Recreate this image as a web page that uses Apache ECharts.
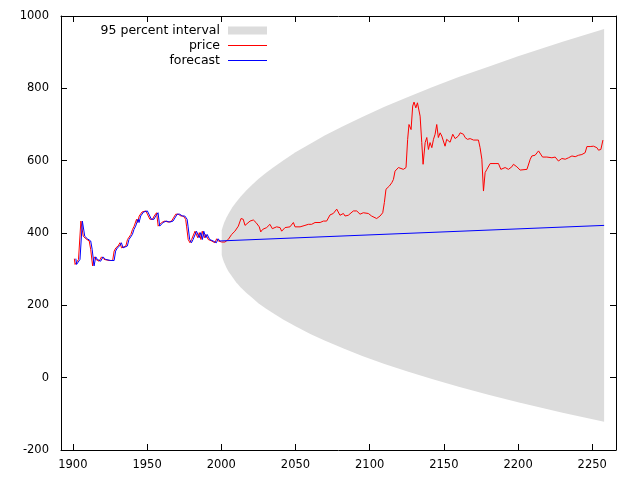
<!DOCTYPE html>
<html>
<head>
<meta charset="utf-8">
<script src="https://cdn.jsdelivr.net/npm/echarts@6/dist/echarts.min.js"></script>
<style>html,body{margin:0;padding:0;background:#fff}#c{width:640px;height:480px}</style>
</head>
<body>
<div id="c"></div>
<script>
// ---- data ----
const xTicks = [1900, 1950, 2000, 2050, 2100, 2150, 2200, 2250];
const priceData = [
[1901,329],[1901.5,313],[1902.7,309],[1903.8,327],[1905.4,433],[1906.3,438],[1907,391],[1908.8,384],[1911,378],[1912,355],[1913.3,309],[1914.4,334],[1915.5,327],[1916.6,332],[1917.7,322],[1919.3,334],[1921,327],[1922.3,322],[1924.5,324],[1926.8,324],[1927.8,350],[1929,359],[1930.5,364],[1931.7,373],[1932.8,359],[1935.7,364],[1936.8,382],[1939.1,396],[1940.2,410],[1941.3,419],[1942.9,438],[1943.6,429],[1944.7,447],[1946.6,458],[1947.4,456],[1949.2,461],[1950.3,456],[1951.9,438],[1953.7,438],[1954.8,447],[1956.4,456],[1957.5,419],[1958.7,419],[1959.8,429],[1962,433],[1964.3,430],[1966.5,433],[1967.6,430],[1969.3,452],[1971,452],[1972.8,447],[1974.4,447],[1976,438],[1976.6,419],[1977.7,382],[1978.9,373],[1980,382],[1981.1,378],[1982.3,405],[1983.4,410],[1984.1,387],[1985.2,401],[1986.3,382],[1987.2,405],[1988.6,387],[1989.5,396],[1991.2,382],[1993.5,378],[1995.7,373],[1996.9,384],[1998,378],[1999.2,373],[2000.3,375],
[2002.5,375],[2004.7,382],[2007,396],[2009.2,405],[2011.5,419],[2013.3,440],[2014.8,438],[2016,421],[2017.1,424],[2019.4,433],[2021.6,436],[2023.4,429],[2025.6,417],[2026.6,403],[2027.9,410],[2030.6,415],[2032.8,424],[2034.4,412],[2037.3,417],[2039.6,415],[2040.7,405],[2043,415],[2046.3,417],[2048.6,429],[2049.7,417],[2053.1,417],[2056.4,421],[2058.7,424],[2060.9,424],[2063.2,429],[2066.6,429],[2068.8,433],[2071,433],[2073.3,450],[2075.5,454],[2077.8,466],[2078.9,470],[2080,449],[2082.3,454],[2083.4,447],[2085.6,449],[2086.8,445],[2089,461],[2091.3,461],[2093.5,452],[2095.7,456],[2099.1,454],[2101.3,447],[2104.7,440],[2107,447],[2108.8,456],[2109.9,484],[2111,521],[2111.9,516],[2113.3,530],[2114.9,539],[2116,548],[2117.1,571],[2119.4,581],[2120.5,576],[2122.7,576],[2124.5,581],[2125.6,659],[2126.5,700],[2127.9,686],[2129,751],[2129.9,762],[2131.1,746],[2132.2,760],[2132.9,762],[2134,723],[2135.1,650],[2136,590],[2137.4,650],[2138.5,664],[2139.6,631],[2140.7,650],[2141.9,636],[2143,659],[2144.1,673],[2145.2,700],[2146.3,664],[2147.5,677],[2148.6,668],[2149.7,673],[2150.8,640],[2151.9,659],[2154.2,651],[2156,673],[2157.6,661],[2159.8,668],[2161,677],[2163.2,673],[2164.3,664],[2165.9,659],[2167.7,661],[2170,657],[2173.3,657],[2174.4,636],[2175.6,604],[2176.7,516],[2177.8,567],[2179,576],[2181.2,592],[2182.3,596],[2184.5,592],[2186.8,592],[2188.4,576],[2189.7,571],[2191.3,581],[2193.5,576],[2195.8,583],[2196.9,590],[2199.2,583],[2201.4,574],[2202.6,578],[2206,576],[2207.1,578],[2208.2,604],[2209.3,613],[2211.5,615],[2213.8,627],[2214.9,627],[2216.5,610],[2219.4,610],[2222.8,608],[2225,610],[2227.2,599],[2229.5,606],[2231.8,604],[2234,608],[2236.3,613],[2238.5,611],[2240.8,615],[2243,617],[2245.2,622],[2246.4,639],[2248.6,639],[2250.8,640],[2253.1,636],[2254.2,629],[2255.8,631],[2257.2,657]
];
const forecastData = [
[1902,329],[1902.5,313],[1903.7,309],[1904.8,327],[1906.4,433],[1907.3,438],[1908,391],[1909.8,384],[1912,378],[1913,355],[1914.3,309],[1915.4,334],[1916.5,327],[1917.6,332],[1918.7,322],[1920.3,334],[1922,327],[1923.3,322],[1925.5,324],[1927.8,324],[1928.8,350],[1930,359],[1931.5,364],[1932.7,373],[1933.8,359],[1936.7,364],[1937.8,382],[1940.1,396],[1941.2,410],[1942.3,419],[1943.9,438],[1944.6,429],[1945.7,447],[1947.6,458],[1948.4,456],[1950.2,461],[1951.3,456],[1952.9,438],[1954.7,438],[1955.8,447],[1957.4,456],[1958.5,419],[1959.7,419],[1960.8,429],[1963,433],[1965.3,430],[1967.5,433],[1968.6,430],[1970.3,452],[1972,452],[1973.8,447],[1975.4,447],[1977,438],[1977.6,419],[1978.7,382],[1979.9,373],[1981,382],[1982.1,378],[1983.3,405],[1984.4,410],[1985.1,387],[1986.2,401],[1987.3,382],[1988.2,405],[1989.6,387],[1990.5,396],[1992.2,382],[1994.5,378],[1996.7,373],[1997.9,384],[1999,378],[2000.3,373],[2258,421]
];
const bandYears = [2000.3,2001,2002,2003.5,2005,2007.5,2010,2013,2017,2021,2025,2030,2035,2042,2050,2060,2070,2082,2095,2110,2125,2142,2160,2180,2200,2230,2258];
const bandUpper = [407,417,429,443,454,471,485,500,518,534,549,566,581,601,623,647,670,695,721,749,775,803,831,860,889,929,964];
const bandLower = [339,329,318,304,293,278,264,250,234,220,206,191,178,160,142,121,102,81,60,38,18,-4,-25,-47,-68,-97,-122];

// ---- chart ----
const FONT = 'DejaVu Sans';
const bandData = bandYears.map((t, i) => [t, bandUpper[i], bandLower[i]]);
const LINE_ICON = 'path://M0,0M0,3.5H39V4.5H0ZM39,8';

const chart = echarts.init(document.getElementById('c'), null, {renderer: 'canvas'});
const axisLineStyle = {show: true, onZero: false, lineStyle: {color: '#000', width: 1}};
const tickStyle = {show: true, inside: true, length: 6, lineStyle: {color: '#000', width: 1}};
const plain = v => String(v);
chart.setOption({
  animation: false,
  backgroundColor: '#fff',
  grid: {left: 61, right: 24, top: 16, bottom: 30, containLabel: false},
  legend: {
    orient: 'vertical', align: 'right', right: 373, top: 23, padding: 0,
    itemWidth: 39, itemHeight: 8, itemGap: 0,
    textStyle: {fontFamily: FONT, fontSize: 12.5, lineHeight: 15, color: '#000', padding: [0, 3, 0, 0]},
    data: [
      {name: '95 percent interval', icon: 'rect', itemStyle: {color: '#dcdcdc'}},
      {name: 'price', icon: LINE_ICON, itemStyle: {color: '#ff0000'}},
      {name: 'forecast', icon: LINE_ICON, itemStyle: {color: '#0000ff'}}
    ],
    selectedMode: false
  },
  xAxis: [
    {type: 'value', min: 1892, max: 2266, position: 'bottom',
     axisLine: axisLineStyle,
     axisTick: Object.assign({customValues: xTicks}, tickStyle),
     axisLabel: {customValues: xTicks, formatter: plain, fontFamily: FONT, fontSize: 11.5, color: '#000', margin: 9},
     splitLine: {show: false}},
    {type: 'value', min: 1892, max: 2266, position: 'top',
     axisLine: axisLineStyle,
     axisTick: Object.assign({customValues: xTicks}, tickStyle),
     axisLabel: {show: false}, splitLine: {show: false}}
  ],
  yAxis: [
    {type: 'value', min: -200, max: 1000, interval: 200, position: 'left',
     axisLine: axisLineStyle, axisTick: tickStyle,
     axisLabel: {formatter: plain, fontFamily: FONT, fontSize: 11.5, color: '#000', margin: 12},
     splitLine: {show: false}},
    {type: 'value', min: -200, max: 1000, interval: 200, position: 'right',
     axisLine: axisLineStyle, axisTick: tickStyle,
     axisLabel: {show: false}, splitLine: {show: false}}
  ],
  series: [
    {name: '95 percent interval', type: 'custom', data: bandData,
     encode: {x: 0, y: [1, 2]}, itemStyle: {color: '#dcdcdc'}, silent: true, z: 1,
     renderItem: function (params, api) {
       if (params.dataIndexInside !== 0) return null;
       const n = params.dataInsideLength;
       const pts = [];
       for (let i = 0; i < n; i++) pts.push(api.coord([api.value(0, i), api.value(1, i)]));
       for (let i = n - 1; i >= 0; i--) pts.push(api.coord([api.value(0, i), api.value(2, i)]));
       return {type: 'polygon', shape: {points: pts}, style: {fill: '#dcdcdc', stroke: null}};
     }},
    {name: 'price', type: 'line', data: priceData, symbol: 'none',
     lineStyle: {color: '#ff0000', width: 1}, itemStyle: {color: '#ff0000'}, z: 3},
    {name: 'forecast', type: 'line', data: forecastData, symbol: 'none',
     lineStyle: {color: '#0000ff', width: 1}, itemStyle: {color: '#0000ff'}, z: 4}
  ]
});
</script>
</body>
</html>
